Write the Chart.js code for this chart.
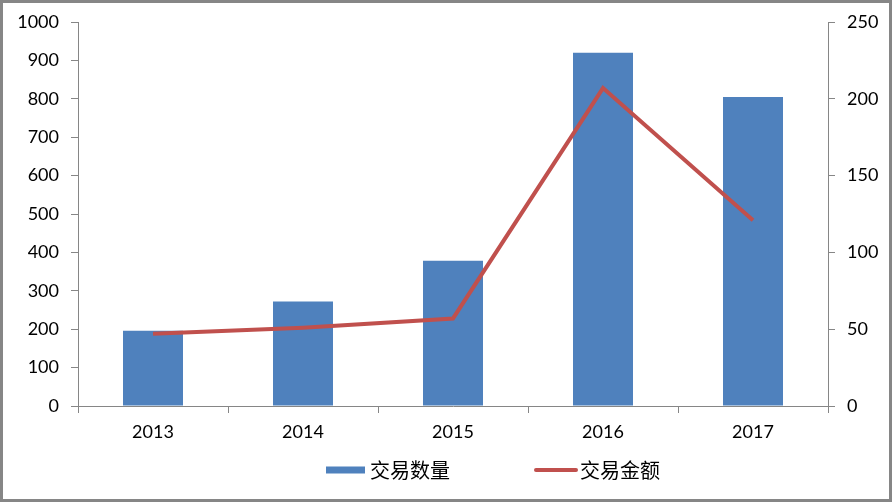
<!DOCTYPE html>
<html>
<head>
<meta charset="utf-8">
<script src="https://cdn.jsdelivr.net/npm/chart.js@4"></script>
<style>
  html, body { margin: 0; padding: 0; background: #fff; }
  #frame {
    width: 892px; height: 502px; box-sizing: border-box;
    border: 3px solid #868686; background: #fff;
  }
  #frame canvas { display: block; }
</style>
</head>
<body>
<div id="frame"><canvas id="chart" width="886" height="496"></canvas></div>
<script>
// data
const years = ['2013', '2014', '2015', '2016', '2017'];
const dealCount = [196, 272, 378, 920, 805];   // 交易数量, left axis
const dealAmount = [47, 51, 57, 207, 121];     // 交易金额, right axis
const countLabel = '交易数量';
const amountLabel = '交易金额';

const axisColor = '#868686';
const tickFont = { family: 'Lato', size: 18 };

// legend drawn by hand so it sits where the original one is
const bottomLegend = {
  id: 'bottomLegend',
  afterDraw(chart, args, opts) {
    const ctx = chart.ctx;
    const bars = chart.data.datasets.find(d => d.type === 'bar');
    const line = chart.data.datasets.find(d => d.type === 'line');
    ctx.save();
    ctx.font = '20px "Noto Sans CJK SC"';
    ctx.textBaseline = 'middle';

    // bar item
    ctx.fillStyle = bars.backgroundColor;
    ctx.fillRect(opts.x1, opts.y - 3.5, 39, 7);
    ctx.fillStyle = '#000';
    ctx.fillText(bars.label, opts.x1 + 44, opts.y);

    // line item
    ctx.strokeStyle = line.borderColor;
    ctx.lineWidth = 4;
    ctx.lineCap = 'round';
    ctx.beginPath();
    ctx.moveTo(opts.x2, opts.y);
    ctx.lineTo(opts.x2 + 40, opts.y);
    ctx.stroke();
    ctx.fillText(line.label, opts.x2 + 44, opts.y);
    ctx.restore();
  }
};

// keep the plot area where it is in the original, not pushed by label overflow
function fixVertical(width) {
  return s => { s.width = width; s.paddingTop = 4; s.paddingBottom = 4; };
}

new Chart(document.getElementById('chart'), {
  type: 'bar',
  data: {
    labels: years,
    datasets: [
      {
        type: 'line',
        label: amountLabel,
        data: dealAmount,
        yAxisID: 'y2',
        borderColor: '#c0504d',
        borderWidth: 4,
        pointRadius: 0,
        tension: 0,
        order: 0
      },
      {
        type: 'bar',
        label: countLabel,
        data: dealCount,
        yAxisID: 'y',
        backgroundColor: '#4f81bd',
        categoryPercentage: 1,
        barPercentage: 0.4,
        order: 1
      }
    ]
  },
  options: {
    responsive: false,
    animation: false,
    layout: { padding: { top: 19, left: 0, right: 0, bottom: 0 } },
    plugins: {
      legend: { display: false },
      tooltip: { enabled: false },
      bottomLegend: { x1: 323, x2: 533, y: 467 }
    },
    scales: {
      x: {
        grid: { drawOnChartArea: false, color: axisColor, tickLength: 7, offset: true },
        border: { color: axisColor },
        ticks: { color: '#000', font: tickFont, padding: 8 },
        afterFit(s) { s.height = 93; }
      },
      y: {
        position: 'left',
        min: 0, max: 1000,
        grid: { drawOnChartArea: false, color: axisColor, tickLength: 7 },
        border: { color: axisColor },
        ticks: { stepSize: 100, color: '#000', font: tickFont, padding: 12, callback: v => String(v) },
        afterFit: fixVertical(75)
      },
      y2: {
        position: 'right',
        min: 0, max: 250,
        grid: { drawOnChartArea: false, color: axisColor, tickLength: 7 },
        border: { color: axisColor },
        ticks: { stepSize: 50, color: '#000', font: tickFont, padding: 12, callback: v => String(v) },
        afterFit: fixVertical(61)
      }
    }
  },
  plugins: [bottomLegend]
});
</script>
</body>
</html>
